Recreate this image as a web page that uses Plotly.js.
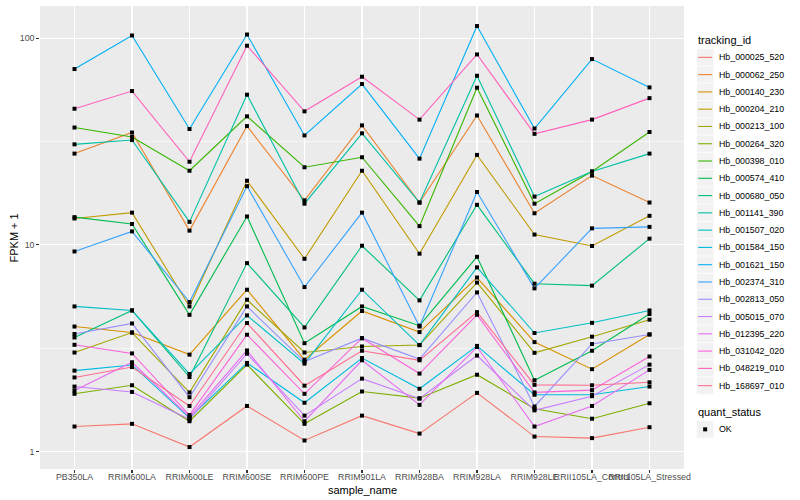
<!DOCTYPE html>
<html><head><meta charset="utf-8">
<script src="https://cdn.plot.ly/plotly-3.0.1.min.js"></script>
<style>html,body{margin:0;padding:0;background:#fff}#chart{width:800px;height:500px}</style>
</head><body><div id="chart"></div>
<script>
// ---- data (values plotted are FPKM + 1) ----
const categories = ["PB350LA","RRIM600LA","RRIM600LE","RRIM600SE","RRIM600PE","RRIM901LA","RRIM928BA","RRIM928LA","RRIM928LE","RRII105LA_Control","RRII105LA_Stressed"];
const trackingIds = ["Hb_000025_520","Hb_000062_250","Hb_000140_230","Hb_000204_210","Hb_000213_100","Hb_000264_320","Hb_000398_010","Hb_000574_410","Hb_000680_050","Hb_001141_390","Hb_001507_020","Hb_001584_150","Hb_001621_150","Hb_002374_310","Hb_002813_050","Hb_005015_070","Hb_012395_220","Hb_031042_020","Hb_048219_010","Hb_168697_010"];
const seriesColors = ["#F8766D","#EA8331","#D89000","#C09B00","#A3A500","#7CAE00","#39B600","#00BB4E","#00BF7D","#00C1A3","#00BFC4","#00BAE0","#00B0F6","#35A2FF","#9590FF","#C77CFF","#E76BF3","#FA62DB","#FF62BC","#FF6C91"];

const hb000025_520 = [1.32,1.36,1.05,1.66,1.13,1.49,1.22,1.92,1.18,1.16,1.31];
const hb000062_250 = [27.6,34.9,11.7,37.5,16.4,37.8,16.0,42.2,14.2,21.6,16.0];
const hb000140_230 = [4.02,3.76,2.94,6.06,2.78,4.78,3.78,6.94,3.38,2.50,3.68];
const hb000204_210 = [13.4,14.3,5.03,20.4,8.55,22.8,9.05,27.2,11.2,9.86,13.8];
const hb000213_100 = [3.01,3.76,1.93,5.42,3.01,3.22,3.27,6.56,3.00,3.59,4.34];
const hb000264_320 = [1.90,2.09,1.40,2.63,1.36,1.95,1.81,2.35,1.61,1.44,1.71];
const hb000398_010 = [36.9,33.2,22.8,41.8,23.7,26.5,12.3,57.5,15.8,22.6,35.1];
const hb000574_410 = [13.6,12.6,4.58,13.7,3.34,5.03,4.06,8.74,2.21,3.07,4.62];
const hb000680_050 = [3.56,4.81,2.29,8.15,3.98,9.89,5.38,15.6,6.48,6.34,10.7];
const hb001141_390 = [30.6,32.1,12.9,53.2,15.8,34.6,16.0,65.7,17.1,22.6,27.6];
const hb001507_020 = [5.03,4.81,2.37,4.55,2.66,6.06,3.27,7.77,3.74,4.19,4.81];
const hb001584_150 = [2.46,2.62,1.45,2.68,1.72,2.83,2.01,3.24,1.88,1.88,2.06];
const hb001621_150 = [70.8,102.9,36.3,104.0,33.8,59.9,26.1,114.3,36.5,79.1,57.7];
const hb002374_310 = [9.28,11.6,5.28,19.2,6.24,14.3,4.02,18.0,6.15,12.0,12.2];
const hb002813_050 = [3.70,4.16,1.83,5.03,2.72,3.53,2.80,5.88,1.65,3.31,3.68];
const hb005015_070 = [2.06,1.94,1.43,2.97,1.49,2.25,1.80,2.91,1.58,1.85,2.63];
const hb012395_220 = [1.97,2.70,1.47,3.08,1.40,2.76,1.68,3.20,1.32,1.66,2.48];
const hb031042_020 = [3.28,2.98,1.50,3.67,1.90,3.53,2.38,4.58,1.93,1.98,2.88];
const hb048219_010 = [45.5,55.4,25.2,91.8,44.2,65.0,40.3,83.3,34.4,40.3,51.2];
const hb168697_010 = [2.28,2.56,1.66,4.18,2.08,3.07,2.76,4.72,2.10,2.09,2.16];

const yTickVals = [1,10,100];
const yTickText = ["1","10","100"];
const quantStatus = ["OK"];

const seriesValues = [hb000025_520,hb000062_250,hb000140_230,hb000204_210,hb000213_100,hb000264_320,hb000398_010,hb000574_410,hb000680_050,hb001141_390,hb001507_020,hb001584_150,hb001621_150,hb002374_310,hb002813_050,hb005015_070,hb012395_220,hb031042_020,hb048219_010,hb168697_010];

// ---- layout geometry ----
const W = 800, H = 500;
const M = {l: 40, r: 116, t: 6, b: 31};
const PW = W - M.l - M.r, PH = H - M.t - M.b;
const px2x = px => (px - M.l) / PW;
const py2y = py => (H - M.b - py) / PH;
const FONT = "Liberation Sans, Arial, Helvetica, sans-serif";

// ---- traces ----
const traces = [];
seriesValues.forEach((vals, i) => {
  traces.push({
    type: "scatter", mode: "lines", x: categories, y: vals,
    line: {color: seriesColors[i], width: 1.1}, name: trackingIds[i],
    showlegend: false, hoverinfo: "x+y+name"
  });
});
const ptsX = [], ptsY = [];
seriesValues.forEach(vals => { vals.forEach((v, j) => { ptsX.push(categories[j]); ptsY.push(v); }); });
traces.push({
  type: "scatter", mode: "markers", x: ptsX, y: ptsY, name: quantStatus[0],
  marker: {symbol: "square", size: 4, color: "#000000"}, showlegend: false
});

// ---- manual ggplot-style legend ----
const shapes = [], annotations = [];
const keyL = 696.5, keyW = 17.28, keyTop = 48.7;
annotations.push({xref: "paper", yref: "paper", x: px2x(695.5), y: py2y(39.5), xanchor: "left", yanchor: "middle",
  text: "tracking_id", showarrow: false, font: {family: FONT, size: 11, color: "#000"}});
trackingIds.forEach((id, i) => {
  const top = keyTop + i * keyW, bot = top + keyW, mid = (top + bot) / 2;
  shapes.push({type: "rect", xref: "paper", yref: "paper", x0: px2x(keyL), x1: px2x(keyL + keyW), y0: py2y(bot), y1: py2y(top),
    fillcolor: "#F2F2F2", line: {color: "#FFFFFF", width: 0.6}});
  shapes.push({type: "line", xref: "paper", yref: "paper", x0: px2x(keyL + 1.7), x1: px2x(keyL + keyW - 1.7), y0: py2y(mid), y1: py2y(mid),
    line: {color: seriesColors[i], width: 1.1}});
  annotations.push({xref: "paper", yref: "paper", x: px2x(716.5), y: py2y(mid), xanchor: "left", yanchor: "middle",
    text: id, showarrow: false, font: {family: FONT, size: 8.8, color: "#000"}});
});
annotations.push({xref: "paper", yref: "paper", x: px2x(695.5), y: py2y(412.3), xanchor: "left", yanchor: "middle",
  text: "quant_status", showarrow: false, font: {family: FONT, size: 11, color: "#000"}});
{
  const top = 420.7, bot = top + keyW, mid = (top + bot) / 2, cx = keyL + keyW / 2;
  shapes.push({type: "rect", xref: "paper", yref: "paper", x0: px2x(keyL), x1: px2x(keyL + keyW), y0: py2y(bot), y1: py2y(top),
    fillcolor: "#F2F2F2", line: {color: "#FFFFFF", width: 0.6}});
  shapes.push({type: "rect", xref: "paper", yref: "paper", x0: px2x(cx - 2), x1: px2x(cx + 2), y0: py2y(mid + 2), y1: py2y(mid - 2),
    fillcolor: "#000", line: {width: 0}});
  annotations.push({xref: "paper", yref: "paper", x: px2x(716.5), y: py2y(mid), xanchor: "left", yanchor: "middle",
    text: quantStatus[0], showarrow: false, font: {family: FONT, size: 8.8, color: "#000"}});
}
// axis titles
annotations.push({xref: "paper", yref: "paper", x: 0.5, y: py2y(490), xanchor: "center", yanchor: "middle",
  text: "sample_name", showarrow: false, font: {family: FONT, size: 11, color: "#000"}});
annotations.push({xref: "paper", yref: "paper", x: px2x(13), y: 0.5, xanchor: "center", yanchor: "middle", textangle: -90,
  text: "FPKM + 1", showarrow: false, font: {family: FONT, size: 11, color: "#000"}});

const layout = {
  width: W, height: H, margin: M,
  paper_bgcolor: "#FFFFFF", plot_bgcolor: "#EBEBEB",
  font: {family: FONT},
  showlegend: false,
  xaxis: {
    type: "category", categoryorder: "array", categoryarray: categories,
    range: [-0.6, categories.length - 0.4], tickangle: 0,
    showgrid: true, gridcolor: "#FFFFFF", gridwidth: 1.07, zeroline: false, showline: false,
    ticks: "outside", ticklen: 2.75, tickwidth: 1.07, tickcolor: "#333333",
    ticklabelstandoff: -3,
    tickfont: {family: FONT, size: 8.8, color: "#4D4D4D"}, fixedrange: true
  },
  yaxis: {
    type: "log", range: [-0.085, 2.155],
    tickmode: "array", tickvals: yTickVals, ticktext: yTickText,
    showgrid: true, gridcolor: "#FFFFFF", gridwidth: 1.07, zeroline: false, showline: false,
    ticks: "outside", ticklen: 2.75, tickwidth: 1.07, tickcolor: "#333333",
    tickfont: {family: FONT, size: 8.8, color: "#4D4D4D"},
    minor: {tickmode: "array", tickvals: [Math.sqrt(10), Math.sqrt(1000)], showgrid: true, gridcolor: "#FFFFFF", gridwidth: 0.53, ticklen: 0},
    fixedrange: true
  },
  shapes: shapes, annotations: annotations
};
Plotly.newPlot("chart", traces, layout, {staticPlot: true, displayModeBar: false});
</script></body></html>
